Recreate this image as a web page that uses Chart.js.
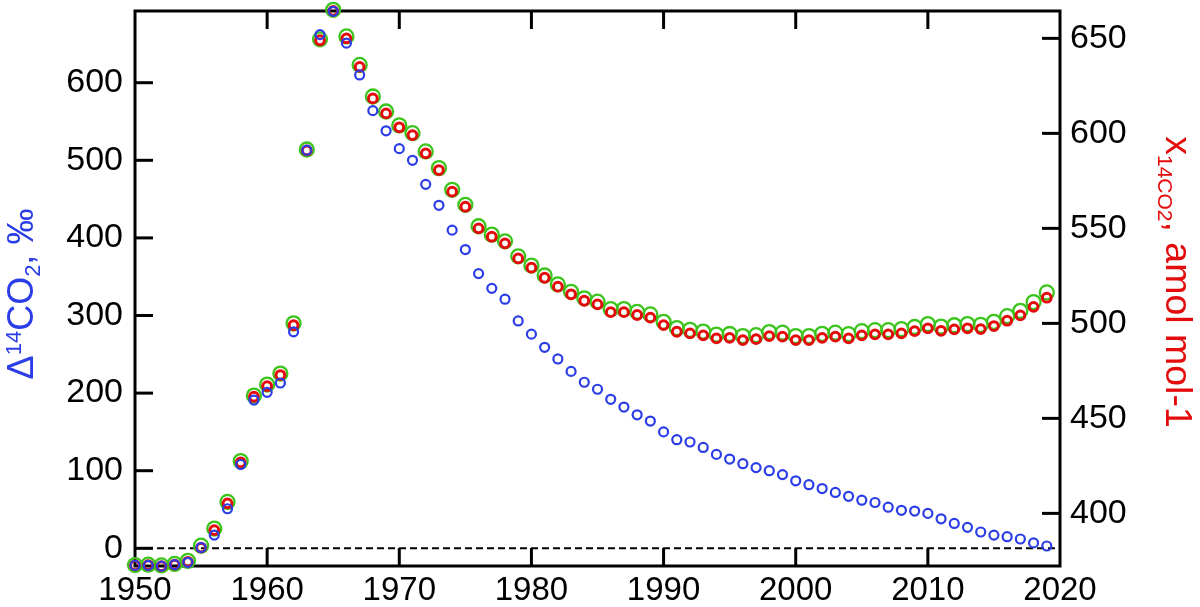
<!DOCTYPE html>
<html>
<head>
<meta charset="utf-8">
<script src="https://cdn.jsdelivr.net/npm/chart.js@4.4.1/dist/chart.umd.min.js"></script>
<style>
  body { margin: 0; background: #fff; }
  canvas { display: block; }
</style>
</head>
<body>
<canvas id="c14-chart" width="1200" height="607"></canvas>
<script>
// years 1950..2019, one point per year
const years = [
  1950, 1951, 1952, 1953, 1954, 1955, 1956, 1957, 1958, 1959,
  1960, 1961, 1962, 1963, 1964, 1965, 1966, 1967, 1968, 1969,
  1970, 1971, 1972, 1973, 1974, 1975, 1976, 1977, 1978, 1979,
  1980, 1981, 1982, 1983, 1984, 1985, 1986, 1987, 1988, 1989,
  1990, 1991, 1992, 1993, 1994, 1995, 1996, 1997, 1998, 1999,
  2000, 2001, 2002, 2003, 2004, 2005, 2006, 2007, 2008, 2009,
  2010, 2011, 2012, 2013, 2014, 2015, 2016, 2017, 2018, 2019
];

// Δ14CO2, ‰ (left axis, blue)
const delta14C = [
  -22, -22, -23, -21, -18, 1, 17, 51, 108, 191,
  201, 213, 279, 513, 662, 692, 651, 610, 564, 538,
  515, 500, 469, 442, 410, 385, 354, 335, 321, 293,
  276, 259, 244, 228, 214, 205, 192, 182, 172, 164,
  150, 140, 137, 130, 121, 115, 109, 104, 100, 95,
  87, 82, 77, 72, 67, 62, 59, 53, 49, 48,
  45, 38, 32, 27, 21, 17, 15, 12, 7, 3
];

// x14CO2, amol mol-1 (right axis, red)
const x14CO2 = [
  372.6, 372.8, 372.2, 373.0, 374.5, 382.0, 391.2, 405.3, 426.8, 461.4,
  467.0, 472.8, 499.0, 591.0, 649.0, 664.5, 650.0, 635.0, 618.4, 610.5,
  603.2, 599.1, 589.5, 580.7, 569.3, 561.4, 550.0, 545.6, 542.1, 534.2,
  529.3, 524.0, 519.3, 515.3, 511.9, 510.0, 505.9, 505.9, 504.4, 503.0,
  499.1, 495.6, 494.7, 493.7, 492.1, 492.4, 491.2, 491.7, 493.3, 493.0,
  491.2, 491.2, 492.4, 493.0, 492.1, 493.7, 494.2, 494.2, 494.7, 495.9,
  497.4, 496.1, 496.8, 497.4, 497.0, 498.6, 501.4, 504.2, 508.7, 513.5
];

// second x14CO2 estimate (right axis, green, larger rings)
const x14CO2b = [
  372.8, 373.0, 372.6, 373.4, 375.0, 383.0, 392.0, 406.0, 427.5, 462.0,
  467.8, 473.6, 500.0, 591.5, 649.5, 665.0, 651.0, 636.0, 619.4, 611.5,
  604.2, 600.1, 590.5, 581.7, 570.3, 562.4, 551.1, 546.7, 543.2, 535.3,
  530.4, 525.2, 520.5, 516.6, 513.2, 511.4, 507.5, 507.5, 506.0, 504.7,
  500.8, 497.5, 496.6, 495.7, 494.1, 494.4, 493.3, 493.8, 495.4, 495.1,
  493.3, 493.3, 494.5, 495.1, 494.3, 495.9, 496.4, 496.4, 497.0, 498.1,
  499.6, 498.3, 499.0, 499.6, 499.2, 500.8, 503.8, 506.6, 511.2, 516.3
];

const xTicks = [1950, 1960, 1970, 1980, 1990, 2000, 2010, 2020];
const leftTicks = [0, 100, 200, 300, 400, 500, 600];
const rightTicks = [400, 450, 500, 550, 600, 650];

const FONT = '"Liberation Sans", Arial, Helvetica, sans-serif';
const BLUE = '#2a3de6';
const RED = '#e30b0b';
const GREEN = '#3cc51c';

function points(vals) {
  return years.map((yr, i) => ({ x: yr, y: vals[i] }));
}

// draws a run of text pieces [text, size, baselineShift] centred on 0
function drawPieces(ctx, pieces, color) {
  let total = 0;
  pieces.forEach(p => {
    ctx.font = p[1] + 'px ' + FONT;
    p.w = ctx.measureText(p[0]).width;
    total += p.w;
  });
  let x = -total / 2;
  ctx.fillStyle = color;
  ctx.textAlign = 'left';
  ctx.textBaseline = 'alphabetic';
  pieces.forEach(p => {
    ctx.font = p[1] + 'px ' + FONT;
    ctx.fillText(p[0], x, p[2]);
    x += p.w;
  });
}

function line(ctx, x1, y1, x2, y2) {
  ctx.beginPath();
  ctx.moveTo(x1, y1);
  ctx.lineTo(x2, y2);
  ctx.stroke();
}

const framePlugin = {
  id: 'frame',
  beforeDatasetsDraw(chart) {
    const { ctx, chartArea: a, scales } = chart;
    const tick = 18;
    ctx.save();
    ctx.strokeStyle = '#000';

    // dashed zero line of the left axis
    const y0 = scales.y.getPixelForValue(0);
    ctx.lineWidth = 2;
    ctx.setLineDash([7, 4]);
    line(ctx, a.left, y0, a.right, y0);
    ctx.setLineDash([]);

    ctx.lineWidth = 3;
    ctx.strokeRect(a.left, a.top, a.right - a.left, a.bottom - a.top);

    xTicks.slice(1, -1).forEach(v => {
      const x = scales.x.getPixelForValue(v);
      line(ctx, x, a.bottom, x, a.bottom - tick);
      line(ctx, x, a.top, x, a.top + tick);
    });
    leftTicks.forEach(v => {
      const y = scales.y.getPixelForValue(v);
      line(ctx, a.left, y, a.left + tick, y);
    });
    rightTicks.forEach(v => {
      const y = scales.y2.getPixelForValue(v);
      line(ctx, a.right, y, a.right - tick, y);
    });
    ctx.restore();
  },
  afterDraw(chart) {
    const { ctx } = chart;
    // left title: Δ14CO2, ‰
    ctx.save();
    ctx.translate(33, 294);
    ctx.rotate(-Math.PI / 2);
    drawPieces(ctx, [
      ['\u0394', 36, 0],
      ['14', 22, -12],
      ['CO', 36, 0],
      ['2', 22, 7],
      [', \u2030', 36, 0]
    ], BLUE);
    ctx.restore();

    // right title: x14CO2, amol mol-1
    ctx.save();
    ctx.translate(1166, 282);
    ctx.rotate(Math.PI / 2);
    drawPieces(ctx, [
      ['x', 37.5, 0],
      ['14CO2', 21, 8],
      [', amol mol-1', 37.5, 0]
    ], RED);
    ctx.restore();
  }
};

function noPad(s) {
  s.paddingTop = 0;
  s.paddingBottom = 0;
  s.paddingLeft = 0;
  s.paddingRight = 0;
}

function setupChart() {
  new Chart(document.getElementById('c14-chart'), {
    type: 'scatter',
    data: {
      datasets: [
        {
          label: 'delta14C',
          data: points(delta14C),
          yAxisID: 'y',
          order: 1,
          pointRadius: 4.5,
          pointBorderWidth: 2.2,
          borderColor: BLUE,
          backgroundColor: 'rgba(0,0,0,0)',
          clip: false
        },
        {
          label: 'x14CO2',
          data: points(x14CO2),
          yAxisID: 'y2',
          order: 2,
          pointRadius: 4.4,
          pointBorderWidth: 3,
          borderColor: RED,
          backgroundColor: 'rgba(0,0,0,0)',
          clip: false
        },
        {
          label: 'x14CO2 b',
          data: points(x14CO2b),
          yAxisID: 'y2',
          order: 3,
          pointRadius: 7,
          pointBorderWidth: 2.3,
          borderColor: GREEN,
          backgroundColor: 'rgba(0,0,0,0)',
          clip: false
        }
      ]
    },
    options: {
      responsive: false,
      animation: false,
      events: [],
      layout: { padding: { top: 11, left: 0, right: 0, bottom: 0 } },
      plugins: {
        legend: { display: false },
        tooltip: { enabled: false }
      },
      scales: {
        x: {
          type: 'linear',
          position: 'bottom',
          min: 1950,
          max: 2020,
          grid: { display: false, drawTicks: false },
          border: { display: false },
          afterBuildTicks: s => { s.ticks = xTicks.map(v => ({ value: v })); },
          afterFit: s => { s.height = 41; noPad(s); },
          ticks: {
            color: '#000',
            padding: 5,
            maxRotation: 0,
            autoSkip: false,
            font: { family: FONT, size: 33 },
            callback: v => String(v)
          }
        },
        y: {
          type: 'linear',
          position: 'left',
          min: -22.8,
          max: 692.4,
          grid: { display: false, drawTicks: false },
          border: { display: false },
          afterBuildTicks: s => { s.ticks = leftTicks.map(v => ({ value: v })); },
          afterFit: s => { s.width = 135; noPad(s); },
          ticks: {
            color: '#000',
            padding: 12,
            font: { family: FONT, size: 34 },
            callback: v => String(v)
          }
        },
        y2: {
          type: 'linear',
          position: 'right',
          min: 372.3,
          max: 664.4,
          grid: { display: false, drawTicks: false },
          border: { display: false },
          afterBuildTicks: s => { s.ticks = rightTicks.map(v => ({ value: v })); },
          afterFit: s => { s.width = 140; noPad(s); },
          ticks: {
            color: '#000',
            padding: 10,
            font: { family: FONT, size: 34 },
            callback: v => String(v)
          }
        }
      }
    },
    plugins: [framePlugin]
  });
}

setupChart();
</script>
</body>
</html>
